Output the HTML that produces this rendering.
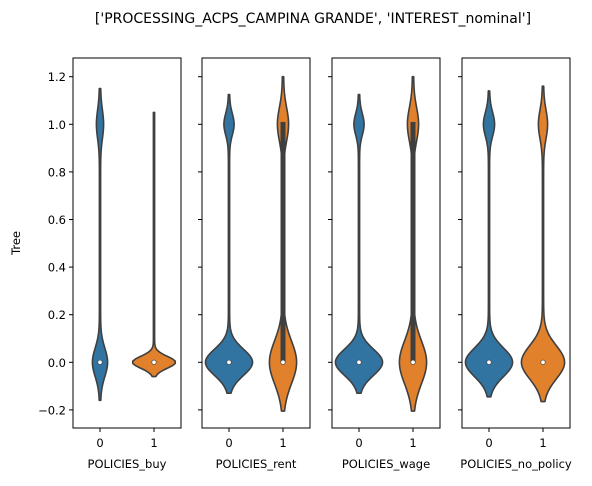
<!DOCTYPE html>
<html><head><meta charset="utf-8"><style>
body{margin:0;background:#fff;font-family:"Liberation Sans","DejaVu Sans",sans-serif}
svg text{font-family:"DejaVu Sans","Liberation Sans",sans-serif}
</style></head><body>
<svg id="c" width="592" height="481" viewBox="0 0 592 481">
<text x="313" y="23" font-size="14" text-anchor="middle">['PROCESSING_ACPS_CAMPINA GRANDE', 'INTEREST_nominal']</text>
<text transform="translate(20,243) rotate(-90)" font-size="11.5" text-anchor="middle">Tree</text>
</svg>
<script>
const panelLabels=["POLICIES_buy","POLICIES_rent","POLICIES_wage","POLICIES_no_policy"];
const categories=["0","1"];
const yTicks=[-0.2,0.0,0.2,0.4,0.6,0.8,1.0,1.2];
const vMin=[[-0.16,-0.06],[-0.13,-0.205],[-0.13,-0.205],[-0.145,-0.165]];
const vMax=[[1.15,1.05],[1.125,1.2],[1.125,1.2],[1.14,1.16]];
const bottomHalf=[[7,21],[23,13],[23,13],[23,21]];
const bottomSd=[[0.06,0.025],[0.055,0.09],[0.055,0.09],[0.06,0.07]];
const topHalf=[[3,0],[4.5,5],[4.5,5],[5,4]];
const topSd=[[0.06,0.05],[0.045,0.07],[0.045,0.07],[0.05,0.06]];
const boxQ1=[[null,null],[null,0.0],[null,0.0],[null,null]];
const boxQ3=[[null,null],[null,1.01],[null,1.01],[null,null]];
const medians=[[0,0],[0,0],[0,0],[0,0]];
const colors=["#3274a1","#e1812c"];
const svg=document.getElementById('c');const NS="http://www.w3.org/2000/svg";
const top0=58,bot0=428,pw=108,panelX=[73,202,332,462];
const y=v=>362.3-v*(47.6/0.2);
function mk(t,a){const e=document.createElementNS(NS,t);for(const k in a)e.setAttribute(k,a[k]);svg.appendChild(e);return e;}
panelLabels.forEach((lab,p)=>{
 const x0=panelX[p];
 const fr=mk('rect',{x:x0,y:top0,width:pw,height:bot0-top0,fill:'none',stroke:'#000','stroke-width':1});
 
 yTicks.forEach(t=>{const l=mk('line',{x1:x0-4,x2:x0,y1:y(t),y2:y(t),stroke:'#000'});
  
  if(p===0){const tx=mk('text',{x:x0-7,y:y(t)+4.5,'font-size':11.5,'text-anchor':'end'});tx.textContent=t.toFixed(1).replace('-','\u2212');
   }});
 const xl=mk('text',{x:x0+pw/2,y:468,'font-size':11.5,'text-anchor':'middle'});xl.textContent=lab;
 
 categories.forEach((c,i)=>{
  const cx=x0+pw*(0.25+0.5*i);
  const tk=mk('line',{x1:cx,x2:cx,y1:bot0,y2:bot0+4,stroke:'#000'});
  
  const tl=mk('text',{x:cx,y:447,'font-size':11.5,'text-anchor':'middle'});tl.textContent=c;
  
  const lo=vMin[p][i],hi=vMax[p][i],N=120;const pts=[];
  for(let k=0;k<=N;k++){const v=lo+(hi-lo)*k/N;
   let w=bottomHalf[p][i]*Math.exp(-Math.pow(v-0,2)/(2*bottomSd[p][i]**2))+topHalf[p][i]*Math.exp(-Math.pow(v-1,2)/(2*topSd[p][i]**2))+0.6;
   pts.push([v,w]);}
  let d='';pts.forEach((q,k)=>{d+=(k?'L':'M')+(cx+q[1]).toFixed(2)+','+y(q[0]).toFixed(2);});
  for(let k=pts.length-1;k>=0;k--)d+='L'+(cx-pts[k][1]).toFixed(2)+','+y(pts[k][0]).toFixed(2);
  const vp=mk('path',{d:d+'Z',fill:colors[i],stroke:'#3f3f3f','stroke-width':1.6,'stroke-linejoin':'round'});
  
  if(boxQ1[p][i]!==null){const b=mk('rect',{x:cx-2.5,y:y(boxQ3[p][i]),width:5,height:y(boxQ1[p][i])-y(boxQ3[p][i]),fill:'#3f3f3f'});
   }
  const m=mk('circle',{cx:cx,cy:y(medians[p][i]),r:2.2,fill:'#fff',stroke:'#3f3f3f','stroke-width':0.6});
  
 });
});
</script>
</body></html>
